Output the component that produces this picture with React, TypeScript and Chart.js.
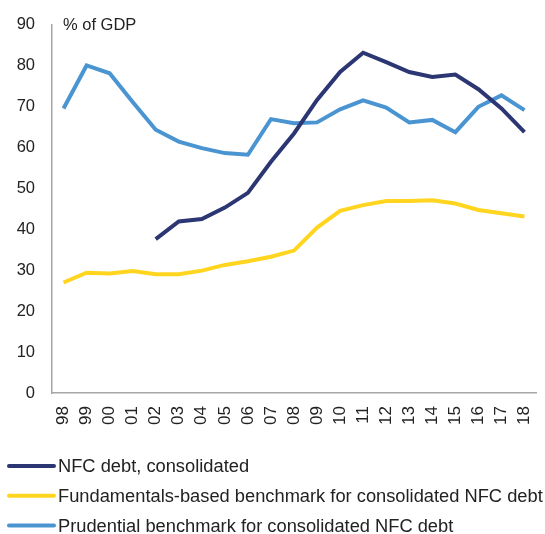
import React, { useEffect, useRef } from "react";
import { Chart, registerables } from "chart.js";

Chart.register(...registerables);

const years = ["98","99","00","01","02","03","04","05","06","07","08","09","10","11","12","13","14","15","16","17","18"];
const nfcDebt = [null,null,null,null,37.6,41.9,42.5,45.3,48.9,56.5,63.4,71.6,78.4,83.1,80.8,78.4,77.2,77.8,74.2,69.5,63.7];
const fundamentalsBenchmark = [27.0,29.4,29.2,29.8,29.0,29.0,29.9,31.3,32.2,33.3,34.8,40.4,44.5,45.9,46.9,46.9,47.1,46.3,44.7,43.9,43.1];
const prudentialBenchmark = [69.5,80.0,78.1,71.1,64.3,61.4,59.8,58.6,58.2,66.9,65.9,66.1,69.3,71.5,69.7,66.1,66.7,63.7,69.9,72.7,69.1];
const yTicks = [0,10,20,30,40,50,60,70,80,90];
const unitLabel = "% of GDP";

const NAVY = "#2B3673";
const YELLOW = "#FFD520";
const LIGHT = "#4A95D1";
const FONT = "'Liberation Sans', Arial, sans-serif";

export default function App() {
  const ref = useRef<HTMLCanvasElement | null>(null);
  useEffect(() => {
    if (!ref.current) return;
    const unitPlugin = {
      id: "unitLabel",
      afterDraw(chart: any) {
        const { ctx, chartArea } = chart;
        ctx.save();
        ctx.font = `16.5px ${FONT}`;
        ctx.fillStyle = "#222";
        ctx.textBaseline = "middle";
        ctx.textAlign = "left";
        ctx.fillText(unitLabel, chartArea.left + 11, chartArea.top + 0.5);
        ctx.restore();
      },
    };
    const legendPlugin = {
      id: "leftLegend",
      afterDraw(chart: any) {
        const { ctx } = chart;
        const base = chart.chartArea.bottom + 73;
        ctx.save();
        ctx.font = `18.3px ${FONT}`;
        ctx.textBaseline = "middle";
        ctx.textAlign = "left";
        chart.data.datasets.forEach((d: any, i: number) => {
          const y = base + i * 29.7;
          ctx.strokeStyle = d.borderColor;
          ctx.lineWidth = 4;
          ctx.lineCap = "round";
          ctx.beginPath();
          ctx.moveTo(9, y);
          ctx.lineTo(54, y);
          ctx.stroke();
          ctx.fillStyle = "#222";
          ctx.fillText(d.label, 58, y + 1);
        });
        ctx.restore();
      },
    };
    const ds = (label: string, data: any[], color: string) => ({
      label,
      data,
      borderColor: color,
      backgroundColor: color,
      borderWidth: 4,
      pointRadius: 0,
      tension: 0,
      spanGaps: false,
    });
    const chart = new Chart(ref.current, {
      type: "line",
      data: {
        labels: years,
        datasets: [
          ds("NFC debt, consolidated", nfcDebt, NAVY),
          ds("Fundamentals-based benchmark for consolidated NFC debt", fundamentalsBenchmark, YELLOW),
          ds("Prudential benchmark for consolidated NFC debt", prudentialBenchmark, LIGHT),
        ],
      },
      options: {
        animation: false,
        responsive: true,
        maintainAspectRatio: false,
        layout: { padding: { left: 0, right: 9, top: 24.5, bottom: 96 } },
        scales: {
          x: {
            offset: true,
            afterFit: (axis: any) => {
              axis.paddingLeft = 0;
              axis.paddingRight = 0;
            },
            grid: { display: false, drawTicks: false },
            border: { display: true, color: "#A6A6A6", width: 1.5 },
            ticks: {
              color: "#222",
              font: { family: FONT, size: 17 },
              maxRotation: 90,
              minRotation: 90,
              padding: 13,
              autoSkip: false,
            },
          },
          y: {
            min: 0,
            max: 90,
            afterFit: (axis: any) => {
              axis.width = 52;
              axis.paddingTop = 0;
              axis.paddingBottom = 0;
            },
            grid: { display: false, drawTicks: false },
            border: { display: true, color: "#A6A6A6", width: 1.5 },
            afterBuildTicks: (axis: any) => {
              axis.ticks = yTicks.map((v) => ({ value: v }));
            },
            ticks: {
              color: "#222",
              font: { family: FONT, size: 16.5 },
              padding: 17,
            },
          },
        },
        plugins: {
          tooltip: { enabled: false },
          legend: { display: false },
        },
      },
      plugins: [unitPlugin, legendPlugin],
    });
    return () => chart.destroy();
  }, []);
  return (
    <div style={{ position: "fixed", left: 0, top: 0, width: 545, height: 534, background: "#fff" }}>
      <canvas ref={ref} />
    </div>
  );
}
